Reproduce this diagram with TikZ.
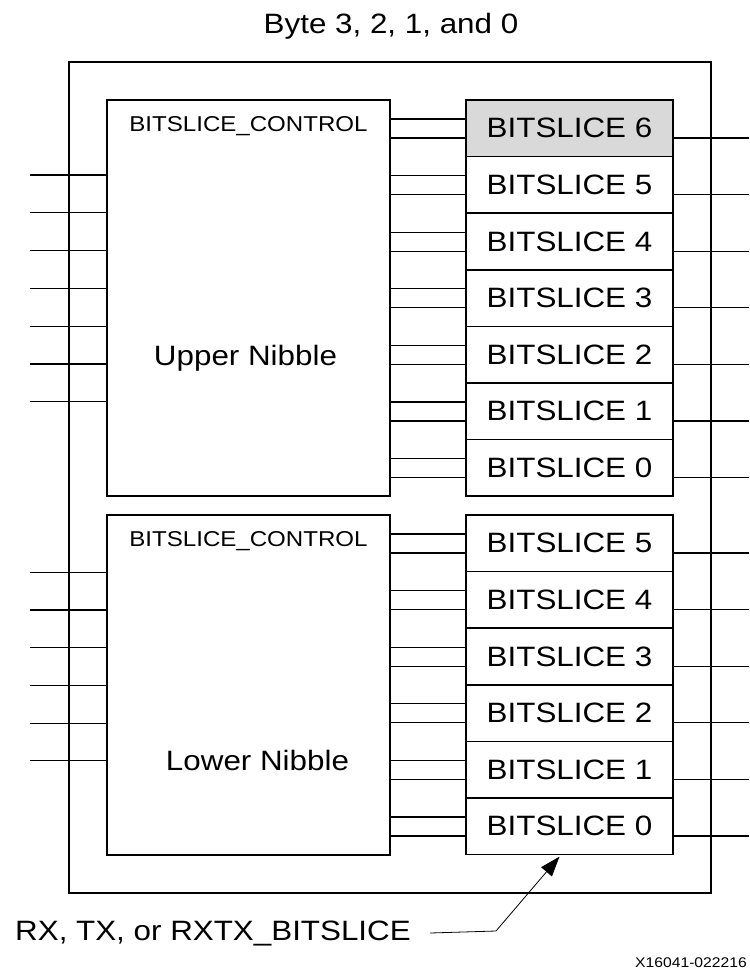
\documentclass[tikz,border=0pt]{standalone}
\usepackage{fontspec}
\setmainfont{Liberation Sans}[FakeStretch=1.12]
\usetikzlibrary{arrows.meta, positioning}

\tikzset{
	slice/.style={draw,line width=1.7pt,minimum width=207pt,minimum height=56.6pt,inner sep=0pt,outer sep=0pt,font=\fontsize{28}{30}\selectfont},
	ctrl/.style={draw,line width=1.7pt,minimum width=283pt,inner sep=0pt,outer sep=0pt,anchor=north west},
	wire/.style={line width=1.1pt},
	lbl/.style={inner sep=0pt,font=\fontsize{28}{30}\selectfont},
}

\begin{document}
\begin{tikzpicture}[x=1pt,y=-1pt]
				\useasboundingbox (0,0) rectangle (749,973);
				
				\node (byte) [draw,line width=1.7pt,minimum width=642pt,minimum height=831pt,anchor=north west] at (68,61) {};
				\node (title) [lbl,anchor=base] at (391,33.3) {Byte 3, 2, 1, and 0};
				
				\coordinate (inl) at (30,0);
				\coordinate (outr) at (749,0);
				
				% upper nibble
				\node (uctrl) [ctrl,minimum height=396pt] at (107,100) {};
				\node (uname) [lbl,anchor=base,font=\fontsize{21.5}{24}\selectfont] at (248.5,132) {BITSLICE\_CONTROL};
				\node (unib) [lbl,anchor=base] at (245.5,365) {Upper Nibble};
				
				\node (u6) [slice,fill=gray!30,anchor=north west] at (466,100) {BITSLICE 6};
				\foreach \i/\j in {5/6,4/5,3/4,2/3,1/2,0/1}
				\node (u\i) [slice,below=0pt of u\j] {BITSLICE \i};
				
				% lower nibble
				\node (lctrl) [ctrl,minimum height=340pt] at (107,515) {};
				\node (lname) [lbl,anchor=base,font=\fontsize{21.5}{24}\selectfont] at (248.5,546.7) {BITSLICE\_CONTROL};
				\node (lnib) [lbl,anchor=base] at (257.5,770) {Lower Nibble};
				
				\node (l5) [slice,anchor=north west] at (466,515) {BITSLICE 5};
				\foreach \i/\j in {4/5,3/4,2/3,1/2,0/1}
				\node (l\i) [slice,below=0pt of l\j] {BITSLICE \i};
				
				% control to bitslices, and outputs
				\foreach \i in {0,...,6} {
					\draw[wire] ([yshift=9.3pt]u\i.west) -- ([yshift=9.3pt]u\i.west -| uctrl.east);
					\draw[wire] ([yshift=-9.7pt]u\i.west) -- ([yshift=-9.7pt]u\i.west -| uctrl.east);
					\draw[wire] ([yshift=-9.7pt]u\i.east) -- ([yshift=-9.7pt]u\i.east -| outr);
				}
				\foreach \i in {0,...,5} {
					\draw[wire] ([yshift=9.3pt]l\i.west) -- ([yshift=9.3pt]l\i.west -| lctrl.east);
					\draw[wire] ([yshift=-9.7pt]l\i.west) -- ([yshift=-9.7pt]l\i.west -| lctrl.east);
					\draw[wire] ([yshift=-9.7pt]l\i.east) -- ([yshift=-9.7pt]l\i.east -| outr);
				}
				
				% inputs
				\foreach \k [evaluate=\k as \d using 75+37.8*\k] in {0,...,6}
				\draw[wire] ([yshift=-\d pt]uctrl.north west) -- ([yshift=-\d pt]uctrl.north west -| inl);
				\foreach \k [evaluate=\k as \d using 57.3+37.7*\k] in {0,...,5}
				\draw[wire] ([yshift=-\d pt]lctrl.north west) -- ([yshift=-\d pt]lctrl.north west -| inl);
				
				% slice type
				\node (kind) [lbl,anchor=base west] at (15,940) {RX, TX, or RXTX\_BITSLICE};
				\coordinate (bend) at (496,931);
				\draw[line width=0.8pt,-{Triangle[length=20pt,width=14pt]}] ([xshift=19pt]kind.east) -- (bend) -- ([xshift=-10pt,yshift=-2pt]l0.south);
				
				\node (code) [inner sep=0pt,anchor=base east,font=\fontsize{14}{16}\selectfont] at (747,967) {X16041-022216};
\end{tikzpicture}
\end{document}
